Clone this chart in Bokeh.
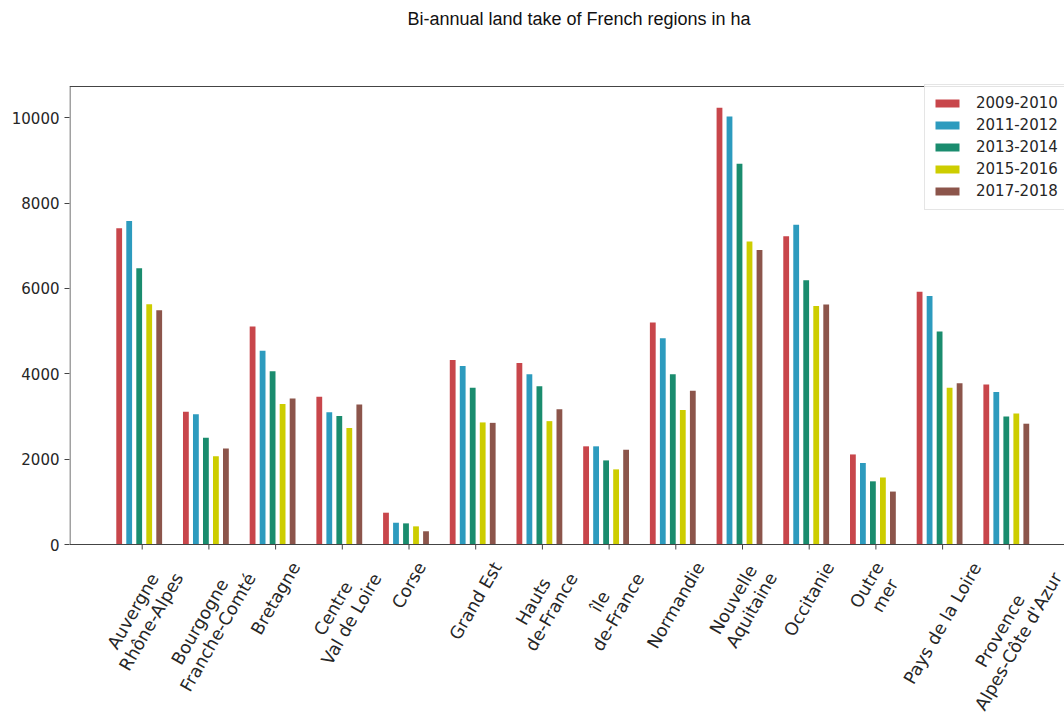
import math

from bokeh.embed import file_html
from bokeh.models import (ColumnDataSource, FixedTicker, Label, Legend,
                          LegendItem, Range1d, Span)
from bokeh.plotting import figure
from bokeh.resources import INLINE

# --- data -------------------------------------------------------------
regions = [
    "Auvergne\nRhône-Alpes", "Bourgogne\nFranche-Comté", "Bretagne",
    "Centre\nVal de Loire", "Corse", "Grand Est", "Hauts\nde-France",
    "île\nde-France", "Normandie", "Nouvelle\nAquitaine", "Occitanie",
    "Outre\nmer", "Pays de la Loire", "Provence\nAlpes-Côte d'Azur",
]
periods = ["2009-2010", "2011-2012", "2013-2014", "2015-2016", "2017-2018"]

take_2009_2010 = [7410, 3110, 5110, 3460, 745, 4320, 4250, 2300, 5200, 10230, 7220, 2110, 5920, 3750]
take_2011_2012 = [7580, 3050, 4540, 3100, 510, 4180, 3990, 2300, 4830, 10030, 7490, 1910, 5820, 3570]
take_2013_2014 = [6470, 2500, 4060, 3010, 495, 3670, 3710, 1970, 3990, 8920, 6190, 1480, 4990, 3000]
take_2015_2016 = [5630, 2070, 3290, 2730, 425, 2860, 2890, 1760, 3150, 7100, 5590, 1570, 3670, 3070]
take_2017_2018 = [5490, 2250, 3420, 3280, 310, 2850, 3170, 2220, 3600, 6900, 5620, 1240, 3780, 2830]

series = [take_2009_2010, take_2011_2012, take_2013_2014, take_2015_2016, take_2017_2018]
y_ticks = [0, 2000, 4000, 6000, 8000, 10000]
y_box_top = 10730          # upper edge of the axes box

# --- styling ----------------------------------------------------------
colors = ["#c8464b", "#2d9bbe", "#1a8c6e", "#cdcd00", "#8c554b"]
offsets = [-0.345, -0.195, -0.045, 0.105, 0.255]
bar_width = 0.087
axis_color = "#444444"
text_color = "#262626"
label_size = 17.5
line_step = 1.2 * label_size

W, H = 1064, 717
FRAME_LEFT = 69            # canvas px where the drawing area starts
CAT0_PX = 141.7            # canvas px of the first category
PX_PER_CAT = 66.7
ZERO_PX = 544              # canvas px of value 0
PX_PER_UNIT = 458 / y_box_top

x_start = -(CAT0_PX - FRAME_LEFT) / PX_PER_CAT
x_end = x_start + (W - FRAME_LEFT) / PX_PER_CAT
y_start = -(H - ZERO_PX) / PX_PER_UNIT
y_end = ZERO_PX / PX_PER_UNIT


def data_x(px):
    return x_start + (px - FRAME_LEFT) / PX_PER_CAT


def data_y(px):
    return (ZERO_PX - px) / PX_PER_UNIT


# DejaVu Sans advance widths (units per em = 2048) used to centre the
# rotated region names under their ticks
ADV = {
    " ": 651, "'": 563, "-": 739,
    "A": 1401, "B": 1405, "C": 1430, "E": 1294, "F": 1178, "G": 1577,
    "L": 1141, "N": 1532, "O": 1612, "P": 1235, "R": 1423, "V": 1401,
    "a": 1255, "c": 1126, "d": 1300, "e": 1260, "g": 1300, "h": 1298,
    "i": 569, "l": 569, "m": 1995, "n": 1298, "o": 1253, "p": 1300,
    "q": 1300, "r": 842, "s": 1067, "t": 803, "u": 1298, "v": 1212,
    "y": 1212, "z": 1075, "ô": 1253, "é": 1260, "î": 569,
}


def text_width(s, size):
    return sum(ADV.get(ch, 1250) for ch in s) / 2048.0 * size


p = figure(
    width=W, height=H,
    x_range=Range1d(x_start, x_end), y_range=Range1d(y_start, y_end),
    output_backend="svg", toolbar_location=None,
    min_border_left=FRAME_LEFT, min_border_right=0,
    min_border_top=0, min_border_bottom=0,
)
p.outline_line_color = None
p.xgrid.visible = False
p.ygrid.visible = False
p.xaxis.visible = False
p.background_fill_color = "white"
p.border_fill_color = "white"

# bars
renderers = []
for k, vals in enumerate(series):
    src = ColumnDataSource(dict(
        x=[i + offsets[k] for i in range(len(regions))],
        top=vals,
    ))
    r = p.vbar(x="x", top="top", width=bar_width, source=src,
               fill_color=colors[k], line_color=None)
    renderers.append(r)

# value axis (ticks and labels only; the spine is drawn below)
yax = p.yaxis[0]
yax.ticker = FixedTicker(ticks=y_ticks)
yax.axis_line_color = None
yax.major_tick_line_color = axis_color
yax.major_tick_in = 0
yax.major_tick_out = 5
yax.minor_tick_line_color = None
yax.major_label_text_font = "DejaVu Sans"
yax.major_label_text_font_size = "15px"
yax.major_label_text_color = text_color
yax.major_label_standoff = 5

# axes box: left spine, bottom spine, top edge
spine_x = data_x(FRAME_LEFT + 0.5)
p.segment(x0=[spine_x], y0=[0], x1=[spine_x], y1=[y_box_top],
          line_color=axis_color, line_width=1)
p.add_layout(Span(location=0, dimension="width", line_color=axis_color, line_width=1))
p.add_layout(Span(location=y_box_top, dimension="width", line_color=axis_color, line_width=1))

# category ticks
p.ray(x=list(range(len(regions))), y=[0] * len(regions), length=5,
      length_units="screen", angle=-math.pi / 2,
      line_color=axis_color, line_width=1)

# rotated region names: each block is centred under its tick, and each
# line of a two-line name is centred within the block
ang = math.radians(60)
perp = (math.sin(ang), math.cos(ang))     # screen direction of "next line"
for i, name in enumerate(regions):
    lines = name.split("\n")
    n = len(lines)
    w = max(text_width(s, label_size) for s in lines)
    h = (n - 1) * line_step + 1.164 * label_size
    hrot = w * math.sin(ang) + h * math.cos(ang)
    cx_px = CAT0_PX + i * PX_PER_CAT
    cy_px = ZERO_PX + 14 + hrot / 2
    for j, line in enumerate(lines):
        d = (j - (n - 1) / 2) * line_step
        p.add_layout(Label(
            x=data_x(cx_px + d * perp[0]), y=data_y(cy_px + d * perp[1]),
            text=line, angle=ang,
            text_align="center", text_baseline="middle",
            text_font="DejaVu Sans", text_font_size=f"{label_size}px",
            text_color=text_color,
        ))

# title
p.add_layout(Label(
    x=data_x(578.5), y=data_y(18), text="Bi-annual land take of French regions in ha",
    text_align="center", text_baseline="middle",
    text_font="Liberation Sans", text_font_size="18px", text_color="#111111",
))

legend = Legend(
    items=[LegendItem(label=periods[k], renderers=[renderers[k]]) for k in range(len(periods))],
    location=(924 - FRAME_LEFT, H - 210),
    glyph_width=30, glyph_height=10,
    label_height=22, spacing=0, label_standoff=14,
    padding=7, margin=0,
    border_line_color="#cccccc", border_line_width=1,
    background_fill_color="white", background_fill_alpha=0.85,
    label_text_font="DejaVu Sans", label_text_font_size="15px",
    label_text_color=text_color,
)
p.add_layout(legend)

open("out.html", "w").write(file_html(p, INLINE))
